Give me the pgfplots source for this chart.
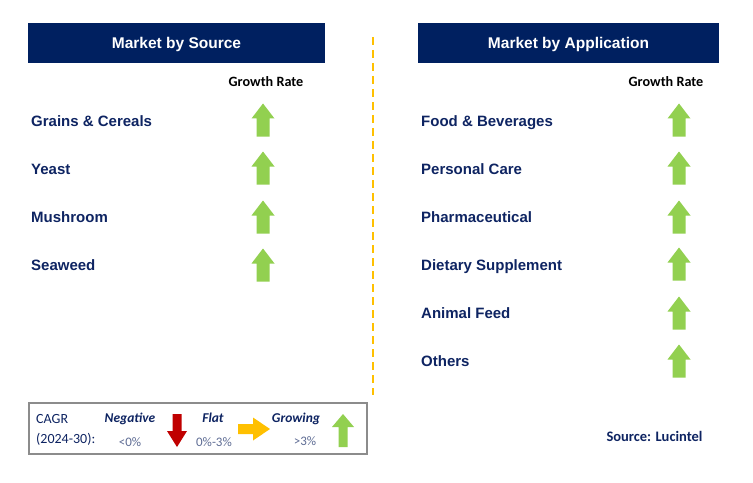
\documentclass[border=0pt]{standalone}
\usepackage{fontspec}
\setmainfont{Liberation Sans}
\newfontfamily\calib{Carlito}
\usepackage{pgfplots}
\pgfplotsset{compat=1.18}

\definecolor{navy}{HTML}{002060}
\definecolor{itemblue}{HTML}{0E2462}
\definecolor{upgreen}{HTML}{92D050}
\definecolor{downred}{HTML}{C00000}
\definecolor{flatyellow}{HTML}{FFC000}
\definecolor{pctgray}{HTML}{5E6C94}
\definecolor{boxgray}{HTML}{8C8C8C}

% arrow marks, sizes in px (1px = 1bp)
\pgfdeclareplotmark{uparrow}{%
  \pgfpathmoveto{\pgfpoint{-6.5bp}{-16.5bp}}%
  \pgfpathlineto{\pgfpoint{6.5bp}{-16.5bp}}%
  \pgfpathlineto{\pgfpoint{6.5bp}{1.5bp}}%
  \pgfpathlineto{\pgfpoint{11.5bp}{1.5bp}}%
  \pgfpathlineto{\pgfpoint{0bp}{16.5bp}}%
  \pgfpathlineto{\pgfpoint{-11.5bp}{1.5bp}}%
  \pgfpathlineto{\pgfpoint{-6.5bp}{1.5bp}}%
  \pgfpathclose\pgfusepathqfill}
\pgfdeclareplotmark{smallup}{%
  \pgfpathmoveto{\pgfpoint{-4.5bp}{-16.5bp}}%
  \pgfpathlineto{\pgfpoint{4.5bp}{-16.5bp}}%
  \pgfpathlineto{\pgfpoint{4.5bp}{3.5bp}}%
  \pgfpathlineto{\pgfpoint{11bp}{3.5bp}}%
  \pgfpathlineto{\pgfpoint{0bp}{16.5bp}}%
  \pgfpathlineto{\pgfpoint{-11bp}{3.5bp}}%
  \pgfpathlineto{\pgfpoint{-4.5bp}{3.5bp}}%
  \pgfpathclose\pgfusepathqfill}
\pgfdeclareplotmark{smalldown}{%
  \pgfpathmoveto{\pgfpoint{-4.5bp}{16.5bp}}%
  \pgfpathlineto{\pgfpoint{4.5bp}{16.5bp}}%
  \pgfpathlineto{\pgfpoint{4.5bp}{-0.5bp}}%
  \pgfpathlineto{\pgfpoint{10bp}{-0.5bp}}%
  \pgfpathlineto{\pgfpoint{0bp}{-16.5bp}}%
  \pgfpathlineto{\pgfpoint{-10bp}{-0.5bp}}%
  \pgfpathlineto{\pgfpoint{-4.5bp}{-0.5bp}}%
  \pgfpathclose\pgfusepathqfill}
\pgfdeclareplotmark{rightarrow}{%
  \pgfpathmoveto{\pgfpoint{-16bp}{-5bp}}%
  \pgfpathlineto{\pgfpoint{-1bp}{-5bp}}%
  \pgfpathlineto{\pgfpoint{-1bp}{-11.5bp}}%
  \pgfpathlineto{\pgfpoint{16bp}{0bp}}%
  \pgfpathlineto{\pgfpoint{-1bp}{11.5bp}}%
  \pgfpathlineto{\pgfpoint{-1bp}{5bp}}%
  \pgfpathlineto{\pgfpoint{-16bp}{5bp}}%
  \pgfpathclose\pgfusepathqfill}

\begin{document}
\begin{tikzpicture}
\begin{axis}[
    hide axis, scale only axis,
    width=753bp, height=483bp,
    xmin=0, xmax=753, ymin=0, ymax=483,
    y dir=reverse, clip=false,
]
% page and header boxes
\fill[white] (axis cs:0,0) rectangle (axis cs:753,483);
\fill[navy] (axis cs:28,23) rectangle (axis cs:325,63);
\fill[navy] (axis cs:418,23) rectangle (axis cs:719,63);
\begin{scope}[every node/.style={inner sep=0pt, anchor=base, text=white, font=\bfseries\fontsize{15.5bp}{18bp}\selectfont}]
\node at (axis cs:176.5,48.5) {Market by Source};
\node at (axis cs:568.5,48.5) {Market by Application};
\end{scope}

% divider
\draw[flatyellow, line width=2bp, dash pattern=on 8bp off 5bp] (axis cs:373,37) -- (axis cs:373,395);

% column heads
\begin{scope}[every node/.style={inner sep=0pt, anchor=base, font=\calib\bfseries\fontsize{14.2bp}{16bp}\selectfont}]
\node at (axis cs:266,87) {Growth Rate};
\node at (axis cs:666,87) {Growth Rate};
\end{scope}

% category labels
\begin{scope}[every node/.style={inner sep=0pt, anchor=base west, text=itemblue, font=\bfseries\fontsize{15bp}{17bp}\selectfont}]
\node at (axis cs:31,126.5) {Grains \& Cereals};
\node at (axis cs:31,174.5) {Yeast};
\node at (axis cs:31,222.5) {Mushroom};
\node at (axis cs:31,270.5) {Seaweed};
\node at (axis cs:421,126.5) {Food \& Beverages};
\node at (axis cs:421,174.5) {Personal Care};
\node at (axis cs:421,222.5) {Pharmaceutical};
\node at (axis cs:421,270.5) {Dietary Supplement};
\node at (axis cs:421,318.5) {Animal Feed};
\node at (axis cs:421,366.5) {Others};
\end{scope}

% growth arrows: by source
\addplot[only marks, mark=uparrow, color=upgreen] coordinates {
  (263,120) (263,168) (263,217) (263,265)
};
% growth arrows: by application
\addplot[only marks, mark=uparrow, color=upgreen] coordinates {
  (679,120) (679,168) (679,217) (679,264) (679,313) (679,361)
};

% legend box
\draw[boxgray, line width=1.2bp] (axis cs:29,403) rectangle (axis cs:367,454);
\begin{scope}[every node/.style={inner sep=0pt, anchor=base, text=itemblue, font=\calib\fontsize{14bp}{16bp}\selectfont}]
\node[anchor=base west] at (axis cs:36,423) {CAGR};
\node[anchor=base west] at (axis cs:36,443) {(2024-30):};
\node[font=\calib\bfseries\itshape\fontsize{13.5bp}{16bp}\selectfont] at (axis cs:130,422.5) {Negative};
\node[font=\calib\bfseries\itshape\fontsize{13.5bp}{16bp}\selectfont] at (axis cs:213,422.5) {Flat};
\node[font=\calib\bfseries\itshape\fontsize{13.5bp}{16bp}\selectfont] at (axis cs:296,422.5) {Growing};
\node[text=pctgray, font=\calib\fontsize{13bp}{15bp}\selectfont] at (axis cs:130,446) {<0\%};
\node[text=pctgray, font=\calib\fontsize{13bp}{15bp}\selectfont] at (axis cs:214,446) {0\%-3\%};
\node[text=pctgray, font=\calib\fontsize{13bp}{15bp}\selectfont] at (axis cs:305,445) {>3\%};
\end{scope}
\addplot[only marks, mark=smalldown, color=downred] coordinates {(177,430.5)};
\addplot[only marks, mark=rightarrow, color=flatyellow] coordinates {(254,429)};
\addplot[only marks, mark=smallup, color=upgreen] coordinates {(343,430.5)};

\node[inner sep=0pt, anchor=base, text=itemblue, font=\calib\bfseries\fontsize{14.5bp}{16bp}\selectfont] at (axis cs:654.5,441) {Source: Lucintel};
\end{axis}
\end{tikzpicture}
\end{document}
